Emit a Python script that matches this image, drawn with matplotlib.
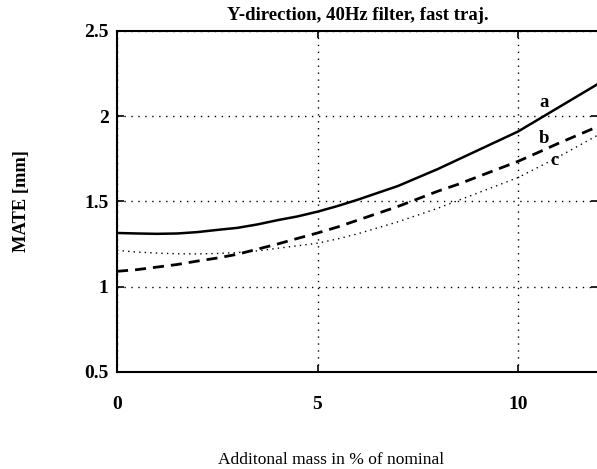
import matplotlib
matplotlib.use("Agg")
import matplotlib.pyplot as plt

# added mass in % of nominal
mass = [0, 0.5, 1, 1.5, 2, 2.5, 3, 3.5, 4, 4.5, 5, 5.5, 6, 6.5, 7, 7.5,
        8, 8.5, 9, 9.5, 10, 10.5, 11, 11.5, 12]
mate_a = [1.315, 1.312, 1.31, 1.312, 1.32, 1.333, 1.345, 1.365, 1.39, 1.412,
          1.44, 1.473, 1.51, 1.55, 1.59, 1.64, 1.69, 1.745, 1.80, 1.855,
          1.91, 1.98, 2.05, 2.12, 2.19]
mate_b = [1.09, 1.10, 1.115, 1.13, 1.15, 1.168, 1.19, 1.22, 1.25, 1.283,
          1.315, 1.35, 1.39, 1.43, 1.47, 1.515, 1.56, 1.60, 1.645, 1.69,
          1.735, 1.787, 1.84, 1.89, 1.94]
mate_c = [1.213, 1.203, 1.197, 1.193, 1.192, 1.195, 1.20, 1.21, 1.225, 1.24,
          1.255, 1.28, 1.31, 1.345, 1.38, 1.42, 1.46, 1.505, 1.55, 1.595,
          1.64, 1.70, 1.76, 1.825, 1.89]

x_ticks = [0, 5, 10]
y_ticks = [0.5, 1, 1.5, 2, 2.5]
y_tick_labels = ["0.5", "1", "1.5", "2", "2.5"]

curve_labels = ["a", "b", "c"]
label_pos = [(10.65, 2.08), (10.65, 1.87), (10.9, 1.74)]

plt.rcParams["font.family"] = ["Liberation Serif", "DejaVu Serif"]

fig = plt.figure(figsize=(5.97, 4.69), dpi=100)
ax = fig.add_axes([0.196, 0.207, 0.806, 0.727])

ax.plot(mass, mate_a, color="black", lw=1.8, ls="-")
ax.plot(mass, mate_b, color="black", lw=2.0, ls=(0, (4, 2.5)))
ax.plot(mass, mate_c, color="black", lw=1.0, ls=(0, (1, 3)))

for lab, (lx, ly) in zip(curve_labels, label_pos):
    ax.text(lx, ly, lab, fontsize=13.5, fontweight="bold", ha="center", va="center")

ax.set_xlim(0, 12)
ax.set_ylim(0.5, 2.5)
ax.set_xticks(x_ticks)
ax.set_xticklabels([str(t) for t in x_ticks], fontsize=14, fontweight="bold")
ax.set_yticks(y_ticks)
ax.set_yticklabels(y_tick_labels, fontsize=14, fontweight="bold")
ax.tick_params(axis="x", direction="in", length=5, width=1.2, pad=17, top=True)
ax.tick_params(axis="y", direction="in", length=5, width=1.2, pad=6, right=True)

ax.grid(True, color="black", ls=(0, (1, 4)), lw=1.0)
for s in ax.spines.values():
    s.set_linewidth(1.5)

ax.set_title("Y-direction, 40Hz filter, fast traj.", fontsize=13.5,
             fontweight="bold", pad=8)
ax.set_xlabel("Additonal mass in % of nominal", fontsize=12.5)
ax.xaxis.set_label_coords(0.445, -0.235)
ax.set_ylabel("MATE [mm]", fontsize=13.3, fontweight="bold")
ax.yaxis.set_label_coords(-0.18, 0.5)

fig.savefig("out.png", dpi=100)
